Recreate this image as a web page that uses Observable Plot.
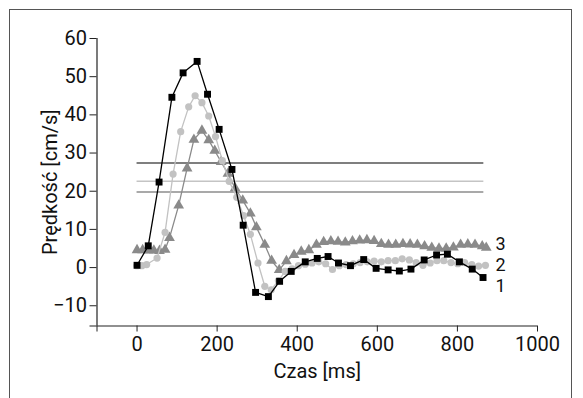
<!DOCTYPE html>
<html><head><meta charset="utf-8">
<script src="https://cdn.jsdelivr.net/npm/d3@7"></script>
<script src="https://cdn.jsdelivr.net/npm/@observablehq/plot@0.6"></script>
<style>
body{margin:0;background:#fff;}
#wrap{position:relative;width:583px;height:398px;overflow:hidden;}
#frame{position:absolute;left:9px;top:9px;width:563px;height:420px;border:1.5px solid #555;box-sizing:border-box;pointer-events:none;}
#chart{position:absolute;left:0;top:0;}
</style></head><body>
<div id="wrap"><div id="chart"></div><div id="frame"></div></div>
<script>
// Series 1 (black squares)
const s1X = [0, 28, 55, 87, 115, 150, 176, 205, 237, 265, 296, 328, 356, 385, 420, 450, 477, 503, 533, 566, 597, 627, 655, 684, 717, 748, 775, 805, 837, 864];
const s1Y = [0.6, 5.7, 22.4, 44.6, 51.0, 54.0, 45.4, 36.2, 25.7, 11.1, -6.5, -7.6, -3.6, -1.0, 1.5, 2.4, 2.9, 1.2, 0.5, 2.1, -0.2, -0.6, -0.9, -0.4, 2.0, 3.3, 3.5, 1.5, -0.4, -2.6];
// Series 2 (light grey circles)
const s2X = [0, 12, 24, 50, 70, 90, 109, 129, 145, 162, 179, 196, 213, 230, 249, 266, 283, 302, 319, 335, 353, 370, 387, 403, 420, 437, 454, 471, 488, 505, 522, 540, 557, 575, 592, 610, 627, 645, 662, 680, 697, 714, 732, 749, 766, 784, 801, 818, 836, 853, 870];
const s2Y = [0.5, 0.5, 0.8, 2.5, 9.2, 24.5, 35.6, 42.1, 45.0, 43.2, 39.7, 34.3, 28.0, 22.6, 18.4, 13.6, 8.7, 1.2, -4.9, -5.8, -3.4, -1.0, -0.3, 0.5, 0.9, 1.2, 1.5, 1.0, -0.5, 0.5, 0.8, 1.0, 1.3, 1.5, 1.7, 1.5, 1.8, 1.8, 2.3, 2.0, 1.3, 0.6, 1.2, 1.8, 1.8, 1.3, 1.0, 1.3, 0.8, 0.4, 0.6];
// Series 3 (grey triangles)
const s3X = [0, 14, 28, 42, 56, 70, 81, 104, 125, 142, 162, 179, 194, 210, 227, 245, 264, 283, 298, 319, 336, 355, 373, 392, 410, 429, 448, 466, 484, 502, 520, 538, 556, 574, 592, 610, 628, 646, 664, 682, 700, 718, 736, 754, 772, 790, 808, 826, 844, 862, 872];
const s3Y = [4.6, 4.6, 4.5, 4.5, 4.4, 4.7, 7.8, 16.3, 26.0, 33.5, 35.9, 33.4, 30.6, 27.7, 24.6, 20.8, 17.6, 14.2, 10.6, 6.0, 1.8, -0.6, 1.7, 3.3, 4.2, 4.6, 6.0, 6.7, 6.9, 6.8, 6.6, 6.9, 7.1, 7.2, 7.0, 6.2, 6.0, 6.0, 6.2, 6.1, 6.0, 5.6, 5.2, 5.0, 5.0, 5.3, 6.0, 6.1, 6.0, 5.6, 5.2];
// Reference levels
const refValues = [27.4, 22.6, 19.8];
const refColors = ["#555555", "#c4c4c4", "#8c8c8c"];
const refEnd = 866;
// Series labels
const labelText = ["3", "2", "1"];
const labelX = [908, 908, 908];
const labelY = [6.0, 0.6, -5.0];
// Axis ticks
const xTicks = [-100, 0, 200, 400, 600, 800, 1000];
const yTicks = [-15.3, -10, 0, 10, 20, 30, 40, 50, 60];
const xDomain = [-100, 1000];
const yDomain = [-15.3, 60];

const pts = (xs, ys) => xs.map((x, i) => ({x, y: ys[i]}));
const d1 = pts(s1X, s1Y), d2 = pts(s2X, s2Y), d3 = pts(s3X, s3Y);
const refs = refValues.map((v, i) => ({v, c: refColors[i]}));
const labels = labelText.map((t, i) => ({t, x: labelX[i], y: labelY[i]}));

const font = "Roboto, 'Liberation Sans', sans-serif";

const chart = Plot.plot({
  width: 583, height: 398,
  marginLeft: 96.5, marginRight: 46, marginTop: 38, marginBottom: 72.5,
  style: {fontFamily: font, fontSize: "20px", background: "transparent", color: "#111"},
  x: {domain: xDomain},
  y: {domain: yDomain},
  marks: [
    ...refs.map(r => Plot.ruleY([r.v], {x1: 0, x2: refEnd, stroke: r.c, strokeWidth: 1.6})),
    Plot.line(d3, {x: "x", y: "y", stroke: "#8a8a8a", strokeWidth: 1.3}),
    Plot.dot(d3, {x: "x", y: "y", symbol: "triangle", r: 4, fill: "#8a8a8a", stroke: "none"}),
    Plot.line(d2, {x: "x", y: "y", stroke: "#c2c2c2", strokeWidth: 1.3}),
    Plot.dot(d2, {x: "x", y: "y", symbol: "circle", r: 3.6, fill: "#c2c2c2", stroke: "none"}),
    Plot.line(d1, {x: "x", y: "y", stroke: "#000", strokeWidth: 1.3}),
    Plot.dot(d1, {x: "x", y: "y", symbol: "square", r: 3.9, fill: "#000", stroke: "none"}),
    Plot.text(labels, {x: "x", y: "y", text: "t", fontSize: 18, textAnchor: "middle", fill: "#111"}),
    Plot.ruleX([xDomain[0]], {y1: yDomain[0], y2: yDomain[1], stroke: "#222", strokeWidth: 1.2}),
    Plot.ruleY([yDomain[0]], {x1: xDomain[0], x2: xDomain[1], stroke: "#222", strokeWidth: 1.2}),
    Plot.axisX({ticks: xTicks, tickSize: 6, tickPadding: 5, tickFormat: d => d < 0 ? "" : String(d),
      label: "Czas [ms]", labelAnchor: "center", labelOffset: 52, labelArrow: "none", stroke: "#222"}),
    Plot.axisY({ticks: yTicks, tickSize: 7, tickPadding: 3, tickFormat: d => d < -12 ? "" : (d < 0 ? "\u2212" + Math.abs(d) : String(d)),
      label: "Prędkość [cm/s]", labelAnchor: "center", labelOffset: 54, labelArrow: "none", stroke: "#222"})
  ]
});
document.getElementById("chart").appendChild(chart);
</script>
</body></html>
